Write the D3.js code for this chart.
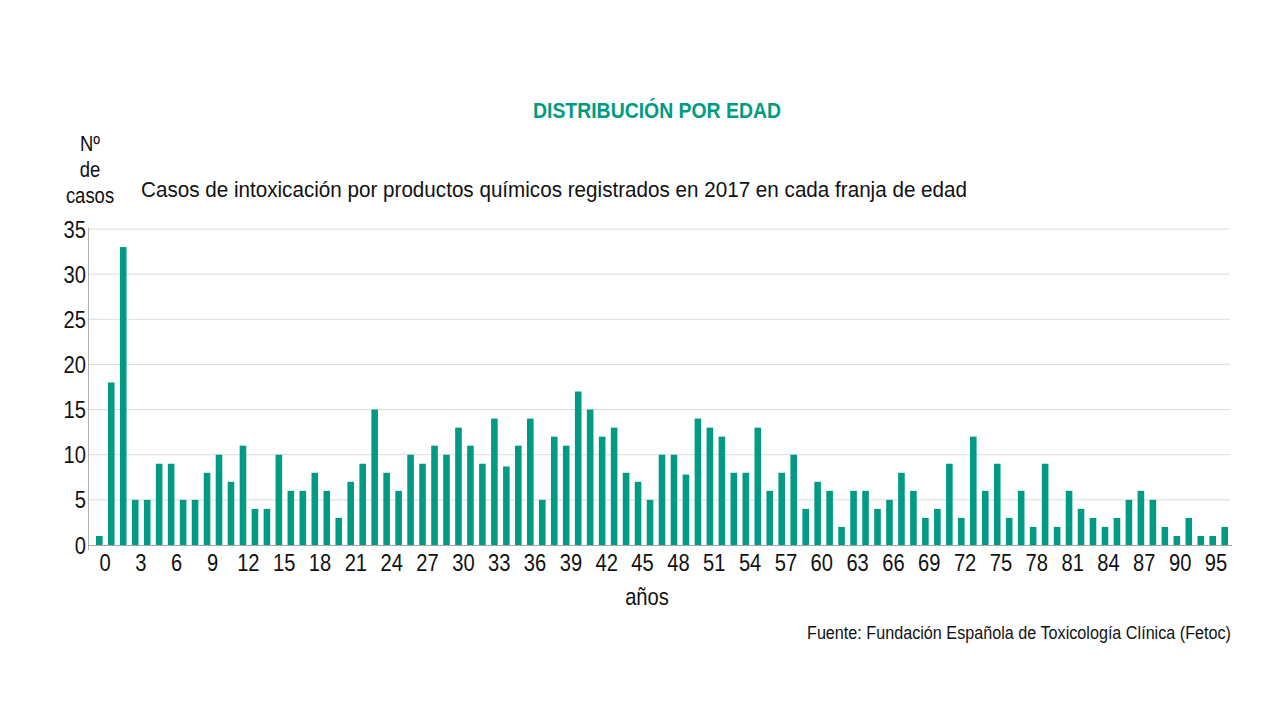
<!DOCTYPE html>
<html>
<head>
<meta charset="utf-8">
<script src="https://cdn.jsdelivr.net/npm/d3@7"></script>
<style>
  html, body { margin: 0; padding: 0; background: #fff; }
  svg { display: block; }
  text { font-family: "Liberation Sans", Arial, sans-serif; }
</style>
</head>
<body>
<script>
// ---- data ----
const barKeys = ["a1","a2","a3","a4","a5","a6","a7","a8","a9","a10",
  "a11","a12","a13","a14","a15","a16","a17","a18","a19","a20",
  "a21","a22","a23","a24","a25","a26","a27","a28","a29","a30",
  "a31","a32","a33","a34","a35","a36","a37","a38","a39","a40",
  "a41","a42","a43","a44","a45","a46","a47","a48","a49","a50",
  "a51","a52","a53","a54","a55","a56","a57","a58","a59","a60",
  "a61","a62","a63","a64","a65","a66","a67","a68","a69","a70",
  "a71","a72","a73","a74","a75","a76","a77","a78","a79","a80",
  "a81","a82","a83","a84","a85","a86","a87","a88","a89","a90",
  "a91","a92","a93","a94","a95"];
const casos = [1,18,33,5,5,9,9,5,5,8,
  10,7,11,4,4,10,6,6,8,6,
  3,7,9,15,8,6,10,9,11,10,
  13,11,9,14,8.7,11,14,5,12,11,
  17,15,12,13,8,7,5,10,10,7.8,
  14,13,12,8,8,13,6,8,10,4,
  7,6,2,6,6,4,5,8,6,3,
  4,9,3,12,6,9,3,6,2,9,
  2,6,4,3,2,3,5,6,5,2,
  1,3,1,1,2];
const xTickLabels = ["0","3","6","9","12","15","18","21","24","27","30","33","36","39","42","45",
  "48","51","54","57","60","63","66","69","72","75","78","81","84","87","90","95"];
const yTicks = [0,5,10,15,20,25,30,35];
const title = "DISTRIBUCIÓN POR EDAD";
const subtitle = "Casos de intoxicación por productos químicos registrados en 2017 en cada franja de edad";
const yLabelLines = ["Nº","de","casos"];
const xLabel = "años";
const source = "Fuente: Fundación Española de Toxicología Clínica (Fetoc)";

// ---- drawing ----
const W = 1280, H = 720;
const green = "#009b82";
const squeeze = 0.84;
const svg = d3.select("body").append("svg").attr("width", W).attr("height", H);

const x = d3.scaleBand().domain(barKeys).range([93, 1231]).paddingInner(0.449).paddingOuter(0.25);
const y = d3.scaleLinear().domain([0, 35]).range([545, 229]);
const xt = d3.scalePoint().domain(xTickLabels).range([105, 1216]);

// gridlines
svg.append("g").selectAll("line").data(yTicks.filter(d => d > 0)).join("line")
  .attr("x1", 88).attr("x2", 1230)
  .attr("y1", d => y(d)).attr("y2", d => y(d))
  .attr("stroke", "#dcdcdc").attr("stroke-width", 1);

// bars
svg.append("g").selectAll("rect").data(casos).join("rect")
  .attr("x", (d, i) => x(barKeys[i]))
  .attr("width", x.bandwidth())
  .attr("y", d => y(d))
  .attr("height", d => y(0) - y(d))
  .attr("fill", green);

// axes lines
svg.append("line").attr("x1", 88.5).attr("x2", 88.5).attr("y1", 228).attr("y2", 550)
  .attr("stroke", "#b0b0b0").attr("stroke-width", 1);
svg.append("line").attr("x1", 88).attr("x2", 1232).attr("y1", y(0) + 0.5).attr("y2", y(0) + 0.5)
  .attr("stroke", "#a8a8a8").attr("stroke-width", 1);

// condensed text helper
function cText(g, px, py, anchor, size) {
  return g.attr("transform", (d, i) => `translate(${px(d, i)},${py(d, i)}) scale(${squeeze},1)`)
    .attr("text-anchor", anchor).attr("font-size", size).attr("fill", "#111");
}

// y tick labels
cText(svg.append("g").selectAll("text").data(yTicks).join("text"),
  () => 86, d => y(d) + 8.5, "end", 24).text(d => d);

// x tick labels
cText(svg.append("g").selectAll("text").data(xTickLabels).join("text"),
  d => xt(d), () => 571, "middle", 24).text(d => d);

// y label
cText(svg.append("g").selectAll("text").data(yLabelLines).join("text"),
  () => 90, (d, i) => [151, 177, 203][i], "middle", 22).text(d => d);

// x label
cText(svg.append("g").selectAll("text").data([xLabel]).join("text"),
  () => 647, () => 605, "middle", 24).text(d => d);

// title
svg.append("text").attr("x", 657).attr("y", 118)
  .attr("text-anchor", "middle").attr("font-size", 21.5).attr("font-weight", "bold")
  .attr("fill", green).attr("textLength", 248).attr("lengthAdjust", "spacingAndGlyphs")
  .text(title);

// subtitle
svg.append("text").attr("x", 141).attr("y", 197)
  .attr("font-size", 22.5).attr("fill", "#111")
  .attr("textLength", 826).attr("lengthAdjust", "spacingAndGlyphs")
  .text(subtitle);

// source
svg.append("text").attr("x", 1231).attr("y", 639)
  .attr("text-anchor", "end").attr("font-size", 17.5).attr("fill", "#111")
  .attr("textLength", 424).attr("lengthAdjust", "spacingAndGlyphs")
  .text(source);
</script>
</body>
</html>
